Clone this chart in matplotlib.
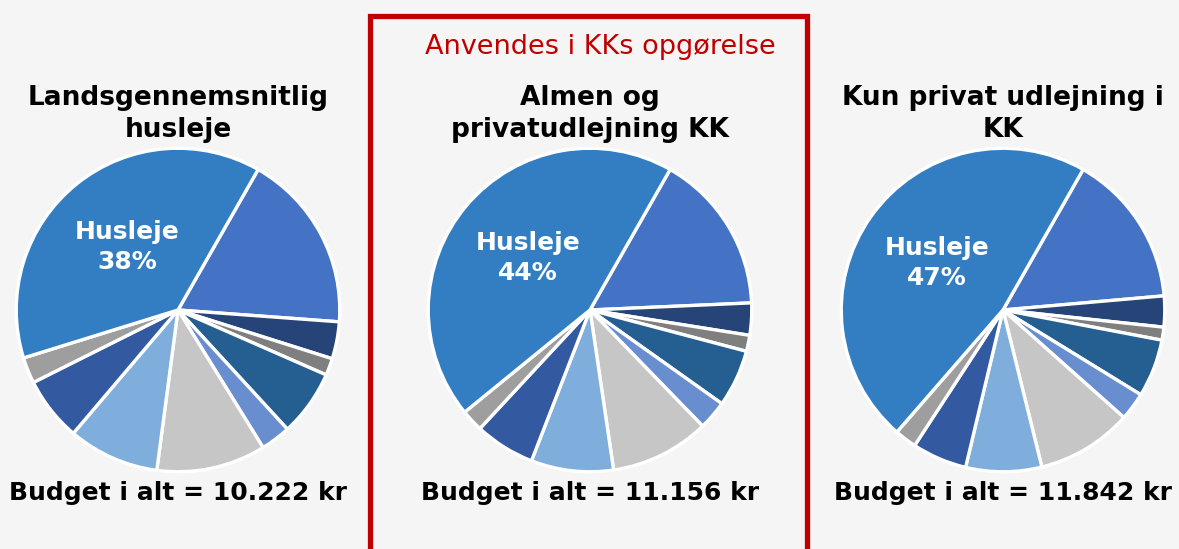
import numpy as np
import matplotlib.pyplot as plt
from matplotlib.patches import Rectangle

# pie data, clockwise from the first slice; Husleje is the last one
kategorier = ["Post 1", "Post 2", "Post 3", "Post 4", "Post 5", "Post 6",
              "Post 7", "Post 8", "Post 9", "Husleje"]
lands = [17.9, 3.7, 1.7, 6.6, 3.0, 10.9, 9.1, 6.4, 2.6, 38.0]
almen_kk = [16.0, 3.2, 1.6, 5.7, 2.9, 9.9, 8.2, 6.0, 2.2, 44.0]
privat_kk = [15.4, 3.1, 1.3, 5.8, 2.8, 9.6, 7.6, 5.5, 2.2, 47.0]

titler = ["Landsgennemsnitlig\nhusleje", "Almen og\nprivatudlejning KK",
          "Kun privat udlejning i\nKK"]
budgetter = ["Budget i alt = 10.222 kr", "Budget i alt = 11.156 kr",
             "Budget i alt = 11.842 kr"]
husleje_pct = ["38%", "44%", "47%"]

farver = ["#4472C4", "#264478", "#7F7F7F", "#255E91", "#698ED0", "#C6C6C6",
          "#7FAEDD", "#335AA1", "#9E9E9E", "#337EC2"]

W, H = 1179, 549
fig = plt.figure(figsize=(W / 100, H / 100), dpi=100)
fig.patch.set_facecolor("#F5F5F5")
font = "DejaVu Sans"

centre_x = [178, 590, 1003]
centre_y = 310
r = 165

for i, data in enumerate([lands, almen_kk, privat_kk]):
    cx = centre_x[i]
    ax = fig.add_axes([(cx - r) / W, (H - centre_y - r) / H, 2 * r / W, 2 * r / H])
    ax.set_facecolor("none")
    wedges, _ = ax.pie(data, colors=farver, startangle=60.3, counterclock=False,
                       radius=1, wedgeprops=dict(edgecolor="white", linewidth=2.4))
    ax.set_xlim(-1.02, 1.02)
    ax.set_ylim(-1.02, 1.02)
    ax.set_aspect("equal")
    ax.axis("off")
    # label in the middle of the Husleje wedge
    w = wedges[-1]
    mid = np.deg2rad((w.theta1 + w.theta2) / 2)
    ax.text(0.50 * np.cos(mid), 0.50 * np.sin(mid), "Husleje\n" + husleje_pct[i],
            ha="center", va="center", color="white", fontsize=18, fontweight="bold",
            family=font, linespacing=1.3)

    fig.text(cx / W, 1 - 114 / H, titler[i], ha="center", va="center",
             fontsize=19, fontweight="bold", family=font, linespacing=1.3)
    fig.text(cx / W, 1 - 493 / H, budgetter[i], ha="center", va="center",
             fontsize=18, fontweight="bold", family=font)

fig.patches.append(Rectangle((370 / W, -0.05), 437 / W, 1.05 - 15.5 / H,
                             transform=fig.transFigure, fill=False,
                             edgecolor="#C00000", linewidth=3.8))
fig.text(600 / W, 1 - 47 / H, "Anvendes i KKs opgørelse", ha="center", va="center",
         color="#C00000", fontsize=19.5, family=font)

fig.savefig("out.png", dpi=100, facecolor=fig.get_facecolor())
